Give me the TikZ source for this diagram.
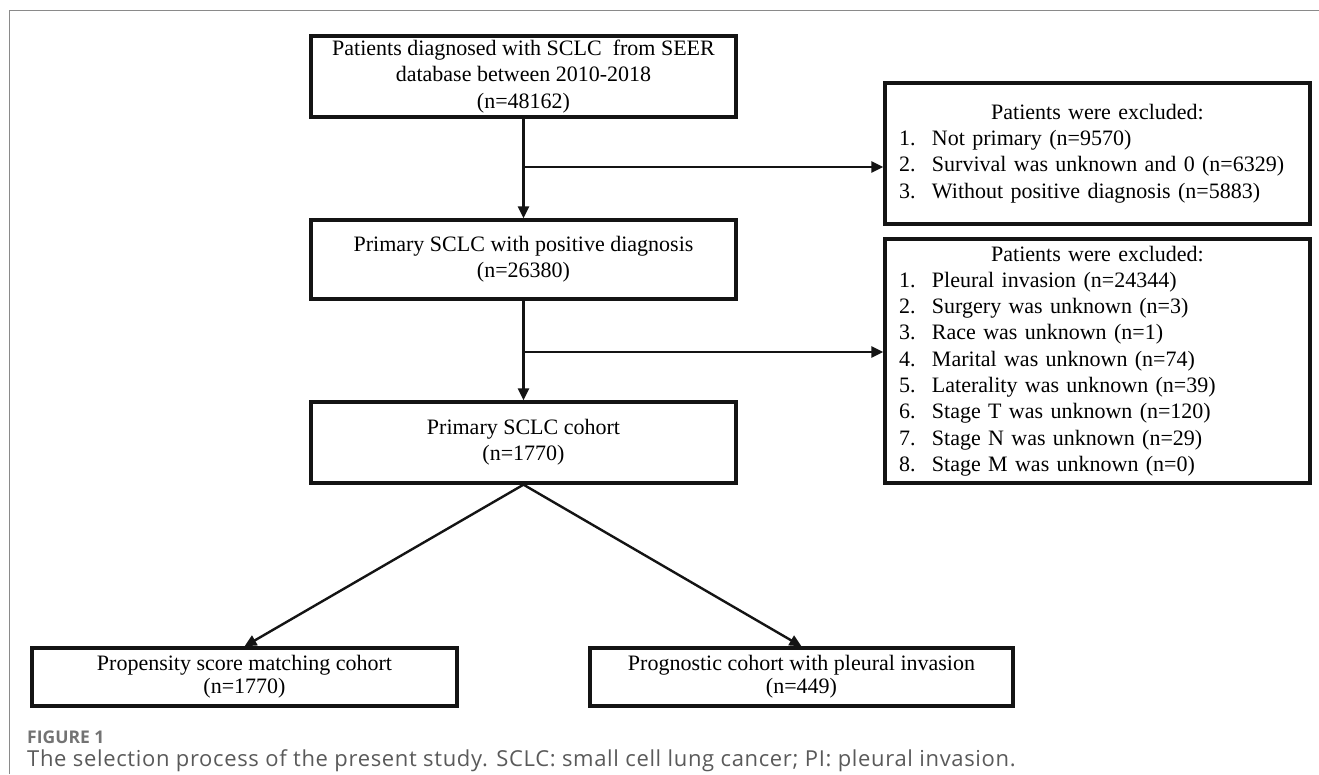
\documentclass[tikz,border=0pt]{standalone}
\usepackage{fontspec}
\setmainfont{Liberation Serif}
\newfontfamily\capfont[LetterSpace=3]{Open Sans}
\newfontfamily\figfont{Open Sans}
\usetikzlibrary{arrows.meta,calc}
\definecolor{framegrey}{HTML}{8A8A8A}
\definecolor{capgrey}{HTML}{5A5A5A}
\begin{document}
\begin{tikzpicture}[x=1pt,y=-1pt,
  box/.style={draw=black!92, line width=3.3pt, rectangle, minimum width=425pt, align=center,
    font=\fontsize{22}{26.3}\selectfont, inner sep=0pt},
  exbox/.style={draw=black!92, line width=3.3pt, rectangle, minimum width=425pt, text width=397pt,
    align=left, inner xsep=14pt, inner ysep=0pt, font=\fontsize{22}{26.3}\selectfont},
  flow/.style={line width=2.4pt, draw=black!92, -{Triangle[length=12pt,width=11pt]}}
]
\useasboundingbox (0,0) rectangle (1319,774);
\draw[framegrey, line width=1pt] (9,774) -- (9,10) -- (1319,10);

\node[box, minimum height=81pt] (b1) at (523.5,76.5) {Patients diagnosed with SCLC\ \ from SEER\\database between 2010-2018\\(n=48162)};
\node[box, minimum height=79pt] (b2) at (523.5,259.5) {Primary SCLC with positive diagnosis\\(n=26380)};
\node[box, minimum height=81pt] (b3) at (523.5,442.5) {Primary SCLC cohort\\(n=1770)};

\node[exbox, minimum height=141pt] (e1) at (1097.5,153.5) {\makebox[397pt][c]{Patients were excluded:}\\
\makebox[33pt][l]{1.}Not primary (n=9570)\\
\makebox[33pt][l]{2.}Survival was unknown and 0 (n=6329)\\
\makebox[33pt][l]{3.}Without positive diagnosis (n=5883)};

\node[exbox, minimum height=244pt] (e2) at (1097.5,361) {\makebox[397pt][c]{Patients were excluded:}\\
\makebox[33pt][l]{1.}Pleural invasion (n=24344)\\
\makebox[33pt][l]{2.}Surgery was unknown (n=3)\\
\makebox[33pt][l]{3.}Race was unknown (n=1)\\
\makebox[33pt][l]{4.}Marital was unknown (n=74)\\
\makebox[33pt][l]{5.}Laterality was unknown (n=39)\\
\makebox[33pt][l]{6.}Stage T was unknown (n=120)\\
\makebox[33pt][l]{7.}Stage N was unknown (n=29)\\
\makebox[33pt][l]{8.}Stage M was unknown (n=0)};

\node[box, minimum height=58pt, font=\fontsize{22}{23}\selectfont] (l) at (244.5,677) {Propensity score matching cohort\\(n=1770)};
\node[box, minimum width=423pt, minimum height=58pt, font=\fontsize{22}{23}\selectfont] (r) at (801.5,677) {Prognostic cohort with pleural invasion\\(n=449)};

\coordinate (k1) at (523.5,167);
\coordinate (k2) at (523.5,352);

\draw[flow] (b1.south) -- (b2.north);
\draw[flow] (k1) -- (k1 -| e1.west);
\draw[flow] (b2.south) -- (b3.north);
\draw[flow] (k2) -- (k2 -| e2.west);
\draw[flow] (b3.south) -- (l.north);
\draw[flow] (b3.south) -- (r.north);

\node[anchor=base west, inner sep=0pt, text=capgrey!85, font=\figfont\fontsize{17.5}{20}\selectfont\bfseries] (fig) at (27,743) {FIGURE 1};
\node[anchor=base west, inner sep=0pt, text=capgrey, font=\capfont\fontsize{22}{26}\selectfont] (cap) at (27,766) {The selection process of the present study. SCLC: small cell lung cancer; PI: pleural invasion.};
\end{tikzpicture}
\end{document}
